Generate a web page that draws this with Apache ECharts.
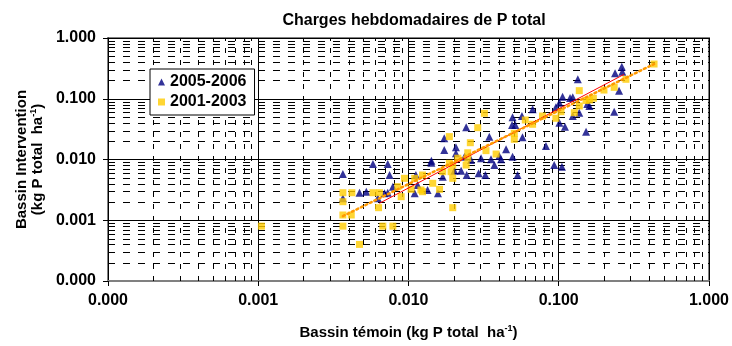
<!DOCTYPE html>
<html>
<head>
<meta charset="utf-8">
<script src="https://cdn.jsdelivr.net/npm/echarts@6/dist/echarts.min.js"></script>
<style>
  html, body { margin: 0; padding: 0; background: #fff; }
  #chart { width: 732px; height: 346px; }
</style>
</head>
<body>
<div id="chart"></div>
<script>
// Weekly total-P loads: control basin (x) vs. treated basin (y), kg P ha-1
const series2005 = [
  [0.263, 0.337], [0.237, 0.262], [0.265, 0.279], [0.252, 0.136], [0.234, 0.0612],
  [0.152, 0.0287], [0.134, 0.209], [0.124, 0.106], [0.119, 0.103], [0.106, 0.108],
  [0.101, 0.0861], [0.0957, 0.0723], [0.137, 0.0589], [0.155, 0.082], [0.160, 0.076],
  [0.124, 0.052], [0.101, 0.0404], [0.110, 0.0347], [0.067, 0.067], [0.0569, 0.052],
  [0.0493, 0.0495], [0.0514, 0.037], [0.0489, 0.037], [0.0574, 0.0232], [0.0345, 0.0237],
  [0.0242, 0.0339], [0.0173, 0.0223], [0.0173, 0.0143], [0.0207, 0.0159], [0.0207, 0.0127],
  [0.0822, 0.0167], [0.0446, 0.0147], [0.0402, 0.0114], [0.0493, 0.0111], [0.0142, 0.00955],
  [0.0933, 0.0081], [0.105, 0.0076], [0.0532, 0.00556], [0.0325, 0.00556], [0.0293, 0.00593],
  [0.0244, 0.00556], [0.0413, 0.0101], [0.0304, 0.0105], [0.0354, 0.0101], [0.0261, 0.0098],
  [0.0236, 0.0111], [0.0142, 0.00886], [0.0157, 0.00278], [0.011, 0.00278], [0.0134, 0.00315],
  [0.0115, 0.0038], [0.0169, 0.00521], [0.0224, 0.00654], [0.0202, 0.00654], [0.0373, 0.0081],
  [0.00366, 0.00577], [0.0058, 0.00843], [0.00728, 0.00843], [0.00748, 0.00556], [0.00366, 0.0023],
  [0.00472, 0.00284], [0.00524, 0.00295], [0.00625, 0.0023], [0.00693, 0.00278], [0.00728, 0.00284],
  [0.00787, 0.00357], [0.0112, 0.00556]
];

const series2001 = [
  [0.00105, 0.0008], [0.00366, 0.0008], [0.00675, 0.0008], [0.00787, 0.0008], [0.00472, 0.0004],
  [0.00366, 0.00122], [0.00416, 0.00122], [0.00632, 0.00161], [0.00366, 0.00202], [0.00366, 0.00284],
  [0.0042, 0.00284], [0.0058, 0.00284], [0.00641, 0.00284], [0.00894, 0.00244], [0.00849, 0.00357],
  [0.0094, 0.0049], [0.0104, 0.00323], [0.0197, 0.00161], [0.0161, 0.00323], [0.0121, 0.00315],
  [0.0124, 0.00295], [0.0145, 0.00406], [0.0197, 0.0049], [0.0192, 0.0063], [0.0197, 0.0081],
  [0.0187, 0.00865], [0.0242, 0.0081], [0.0169, 0.0063], [0.0124, 0.00556], [0.011, 0.0049],
  [0.431, 0.373], [0.280, 0.209], [0.234, 0.154], [0.200, 0.139], [0.170, 0.102],
  [0.160, 0.0953], [0.152, 0.0938], [0.137, 0.136], [0.137, 0.076], [0.127, 0.0589],
  [0.1035, 0.0612], [0.0957, 0.0477], [0.078, 0.052], [0.067, 0.038], [0.0599, 0.0447],
  [0.0506, 0.027], [0.0506, 0.0215], [0.032, 0.0576], [0.0289, 0.0334], [0.0258, 0.0189],
  [0.0187, 0.0238], [0.0248, 0.0129], [0.0328, 0.014], [0.0383, 0.0123], [0.0213, 0.0105],
  [0.0248, 0.0105]
];

// Power-law fits (straight in log-log space), end points
const trend2005 = [[0.0064, 0.0019], [0.272, 0.252]];
const trend2001 = [[0.00366, 0.00117], [0.431, 0.373]];

// Axis range and labels
const axisMin = 0.0001;
const axisMax = 1;
const decades = [0.0001, 0.001, 0.01, 0.1];
const minorMultiples = [2, 3, 4, 5, 6, 7, 8, 9];
const tickLabels = ['0.000', '0.001', '0.010', '0.100', '1.000'];

const FONT = '"Liberation Sans", Arial, sans-serif';

const minorValues = [];
decades.forEach(d => minorMultiples.forEach(m => minorValues.push(+(d * m).toPrecision(3))));

function tickLabel(v) {
  const i = Math.round(Math.log10(v)) + 4;
  return tickLabels[i] !== undefined ? tickLabels[i] : '';
}

// Dashed minor grid line through the axis scale
function minorGridItem(vertical, dash) {
  return function (params, api) {
    const v = api.value(vertical ? 0 : 1);
    const a = vertical ? api.coord([v, axisMin]) : api.coord([axisMin, v]);
    const b = vertical ? api.coord([v, axisMax]) : api.coord([axisMax, v]);
    const snap = n => Math.round(n) + 0.5;
    return {
      type: 'line',
      silent: true,
      shape: vertical
        ? { x1: snap(a[0]), y1: a[1], x2: snap(b[0]), y2: b[1] }
        : { x1: a[0], y1: snap(a[1]), x2: b[0], y2: snap(b[1]) },
      style: { stroke: '#000', lineWidth: 1, lineDash: dash }
    };
  };
}

const chart = echarts.init(document.getElementById('chart'), null, { renderer: 'canvas' });

const axisCommon = {
  type: 'log',
  logBase: 10,
  min: axisMin,
  max: axisMax,
  splitNumber: 4,
  axisTick: { show: true, length: 5, lineStyle: { color: '#000', width: 1 } },
  minorTick: { show: false },
  splitLine: { show: true, lineStyle: { color: '#000', width: 1, type: 'solid' } },
  axisLabel: {
    formatter: tickLabel,
    color: '#000',
    fontFamily: FONT,
    fontWeight: 'bold',
    fontSize: 16
  },
  nameTextStyle: {
    color: '#000',
    fontFamily: FONT,
    fontWeight: 'bold',
    fontSize: 15,
    rich: {
      sup: { fontSize: 9, fontWeight: 'bold', fontFamily: FONT, verticalAlign: 'top', padding: [0, 0, 8, 0] }
    }
  }
};

chart.setOption({
  animation: false,
  backgroundColor: '#fff',
  title: {
    text: 'Charges hebdomadaires de P total',
    left: 409,
    top: 8,
    textAlign: 'center',
    textStyle: { color: '#000', fontFamily: FONT, fontWeight: 'bold', fontSize: 16 }
  },
  grid: {
    left: 108, top: 38, width: 602, height: 243,
    show: true, borderColor: '#808080', borderWidth: 2, backgroundColor: 'transparent'
  },
  legend: {
    left: 150, top: 69,
    z: 20,
    orient: 'vertical',
    backgroundColor: '#fff',
    borderColor: '#000',
    borderWidth: 1,
    padding: [5, 8, 5, 8],
    itemGap: 4,
    itemWidth: 7,
    itemHeight: 7,
    textStyle: { color: '#000', fontFamily: FONT, fontWeight: 'bold', fontSize: 16 },
    data: [
      { name: '2005-2006', icon: 'triangle' },
      { name: '2001-2003', icon: 'rect' }
    ]
  },
  xAxis: Object.assign({}, axisCommon, {
    name: 'Bassin témoin (kg P total  ha{sup|-1})',
    nameLocation: 'middle',
    nameGap: 43,
    axisLine: { show: true, lineStyle: { color: '#808080', width: 2 } },
    axisLabel: Object.assign({}, axisCommon.axisLabel, { margin: 12 })
  }),
  yAxis: Object.assign({}, axisCommon, {
    name: 'Bassin Intervention\n(kg P total  ha{sup|-1})',
    nameLocation: 'middle',
    nameGap: 60,
    nameRotate: 90,
    axisLine: { show: true, lineStyle: { color: '#000', width: 1 } },
    axisLabel: Object.assign({}, axisCommon.axisLabel, { margin: 12 })
  }),
  series: [
    {
      type: 'custom',
      name: 'vgrid',
      data: minorValues.map(v => [v, 0.01]),
      renderItem: minorGridItem(true, [5, 7]),
      silent: true,
      z: 1
    },
    {
      type: 'custom',
      name: 'hgrid',
      data: minorValues.map(v => [0.01, v]),
      renderItem: minorGridItem(false, [7, 8]),
      silent: true,
      z: 1
    },
    {
      type: 'scatter',
      name: '2005-2006',
      data: series2005,
      symbol: 'triangle',
      symbolSize: 8,
      itemStyle: { color: '#000080' },
      z: 3
    },
    {
      type: 'scatter',
      name: '2001-2003',
      data: series2001,
      symbol: 'rect',
      symbolSize: 7,
      itemStyle: { color: '#FFCC00' },
      z: 4
    },
    {
      type: 'line',
      name: 'fit2005',
      data: trend2005,
      symbol: 'none',
      lineStyle: { color: '#FF0000', width: 1 },
      z: 5
    },
    {
      type: 'line',
      name: 'fit2001',
      data: trend2001,
      symbol: 'none',
      lineStyle: { color: '#FF9900', width: 2.5, type: [2, 3], cap: 'round' },
      z: 5
    }
  ]
});
</script>
</body>
</html>
